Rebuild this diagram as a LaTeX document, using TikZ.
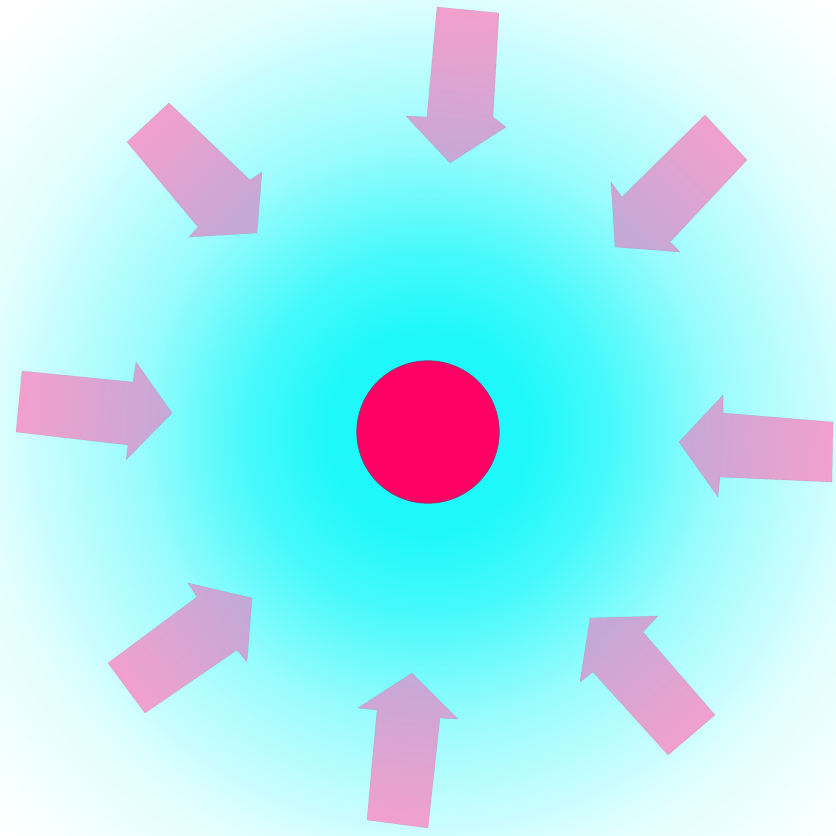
\documentclass[tikz,border=0pt]{standalone}
\definecolor{bgcyan}{RGB}{30,248,250}
\definecolor{arrowback}{RGB}{242,160,206}
\definecolor{arrowhead}{RGB}{198,168,214}
\definecolor{dotred}{RGB}{255,0,100}
\definecolor{dotedge}{RGB}{175,40,105}
\pgfdeclareradialshading{bgshade}{\pgfpoint{0bp}{0bp}}{color(0bp)=(bgcyan); color(100bp)=(bgcyan); color(180bp)=(bgcyan!82!white); color(290bp)=(bgcyan!45!white); color(440bp)=(bgcyan!13!white); color(580bp)=(white); color(700bp)=(white)}
\tikzset{blockarrow/.style={left color=arrowback, right color=arrowhead, draw=arrowhead!70!black, draw opacity=0.2, line width=0.6pt, line join=round}}
\begin{document}
\begin{tikzpicture}[x=1pt,y=-1pt]
\useasboundingbox (0,0) rectangle (836,836);
\begin{scope}
\clip (0,0) rectangle (836,836);
\node[inner sep=0pt, outer sep=0pt] (bg) at (428,432) {\pgfuseshading{bgshade}};
\end{scope}
% arrows: back corners, joint, wing, tip, wing, joint
\path[blockarrow, shading angle=353] (437,7) -- (499,13) -- (493,117) -- (506,127) -- (450,163) -- (406,116) -- (427,117) -- cycle;
\path[blockarrow, shading angle=45] (127,142) -- (169,103) -- (250,180) -- (262,172) -- (257,233) -- (189,237) -- (198,227) -- cycle;
\path[blockarrow, shading angle=315] (705,115) -- (747,160) -- (670,242) -- (680,252) -- (615,247) -- (611,182) -- (622,197) -- cycle;
\path[blockarrow, shading angle=85.5] (22,371) -- (133,382) -- (136,362) -- (172,413) -- (126,460) -- (128,445) -- (16,432) -- cycle;
\path[blockarrow, shading angle=266] (833,422) -- (832,482) -- (720,477) -- (718,497) -- (679,442) -- (723,395) -- (723,413) -- cycle;
\path[blockarrow, shading angle=125.5] (108,663) -- (197,597) -- (188,583) -- (252,598) -- (247,662) -- (237,650) -- (145,713) -- cycle;
\path[blockarrow, shading angle=174] (367,820) -- (377,710) -- (358,708) -- (412,673) -- (458,719) -- (440,718) -- (428,828) -- cycle;
\path[blockarrow, shading angle=221] (715,715) -- (643,632) -- (658,616) -- (590,618) -- (580,682) -- (593,672) -- (668,755) -- cycle;
\node[circle, fill=dotred, draw=dotedge, line width=1.2pt, minimum size=142pt, inner sep=0pt] (dot) at (428,432) {};
\end{tikzpicture}
\end{document}
